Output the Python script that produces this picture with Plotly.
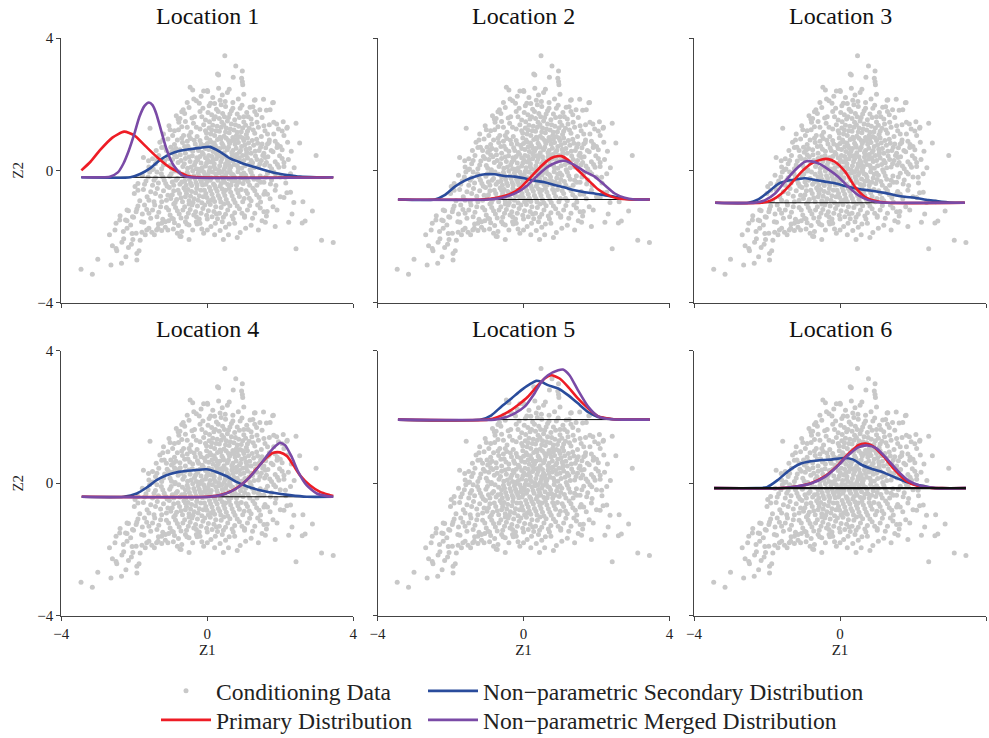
import plotly.graph_objects as go

# ---------------- data ----------------
locations = ["Location 1", "Location 2", "Location 3", "Location 4", "Location 5", "Location 6"]
baselines = [-0.21, -0.88, -0.98, -0.41, 1.92, -0.15]
tick_vals = [-4, 0, 4]
tick_text = ["\u22124", "0", "4"]

# conditioning data (Z1, Z2) (same in every panel)
conditioning = [
    (-3.46,-2.99),(-3.15,-3.14),(-3.00,-2.69),(-2.64,-2.86),(-2.68,-1.95),(-2.53,-1.80),(-2.50,-2.36),(-2.35,-2.81),
    (-2.23,-2.61),(-2.24,-1.50),(-1.93,-2.71),(-1.93,-2.51),(-1.84,-2.11),(-2.04,-2.09),(-1.66,-1.80),(-1.39,-1.80),
    (-0.75,-1.99),(-0.50,-2.09),(0.44,-2.09),(0.58,-1.95),(0.82,-2.03),(1.40,-1.80),(1.86,-1.70),(2.43,-2.37),
    (3.13,-2.11),(3.45,-2.18),(2.60,-1.59),(2.68,-1.53),(2.88,-1.23),(2.62,-0.95),(2.98,0.45),(2.53,0.83),
    (2.43,1.42),(2.08,1.47),(1.79,2.04),(1.54,2.15),(1.29,2.12),(0.96,3.00),(0.78,3.15),(0.48,3.46),
    (0.31,2.88),(0.96,2.68),(0.94,2.78),(-0.47,2.51),(-0.40,2.43),(0.00,2.41),(0.31,2.48),(-0.75,1.57),
    (-0.70,1.77),(0.71,2.81),(0.28,2.91),(0.97,2.59),(0.01,2.38),(-0.17,2.24),(0.41,2.28),(0.49,2.08),
    (0.85,2.16),(1.31,2.13),(1.81,2.05),(-0.37,2.16),(-0.22,2.03),(0.09,2.03),(1.17,1.91),(1.44,1.83),
    (1.72,1.83),(2.18,1.27),(-0.66,1.83),(-1.02,1.23),(-0.79,1.23),(-1.57,1.27),(-1.75,0.39),(-1.61,0.29),
    (-1.98,-0.49),(-1.48,0.04),(-1.25,0.69),(2.19,1.30),(1.82,1.45),(2.05,1.19),(1.91,0.69),(2.10,0.24),
    (1.96,0.09),(1.87,-0.11),(2.14,-0.21),(2.28,-0.66),(2.10,-0.82),(1.69,0.84),(1.59,0.39),(1.73,-0.41),
    (1.46,-0.36),(1.55,-0.72),(-1.87,-2.43),(-2.60,-2.28),(-2.48,-2.43),(-2.29,-2.07),(-2.34,-2.17),(-2.16,-2.33),
    (-2.08,-2.23),(-2.06,-1.91),(-2.39,-1.37),(-2.20,-1.52),(-2.02,-1.42),(-1.74,-1.57),(-1.79,-1.87),(-1.52,-1.87),
    (-1.34,-1.62),(-1.25,-1.82),(-1.15,-1.72),(-1.06,-1.52),(-0.72,-2.00),(-0.79,-1.67),(-0.56,-1.62),(-0.28,-1.62),
    (-0.15,-1.77),(-0.93,-1.77),(-0.93,-1.47),(-2.16,-1.22),(-1.93,-1.17),(0.22,-1.60),(0.41,-1.55),(0.71,-1.47),
    (1.02,-1.37),(1.50,-1.52),(1.59,-1.57),(2.23,-1.57),(2.32,-1.32),(1.91,-1.20),(1.64,-1.24),(2.37,-0.97),
    (0.00,-1.47),(0.25,-1.32),
    # band 2.0 .. 2.5
    (-0.30,2.10),(0.15,2.20),(0.55,2.35),(0.70,2.05),(-0.10,2.40),(0.35,2.12),(1.00,2.30),(0.60,2.45),(-0.55,2.05),(0.20,2.02),
    # band 1.5 .. 2.0
    (-0.80,1.55),(-0.50,1.90),(-0.35,1.62),(-0.20,1.78),(-0.05,1.52),(0.05,1.95),(0.12,1.68),(0.25,1.85),(0.33,1.57),
    (0.42,1.72),(0.50,1.93),(0.58,1.60),(0.66,1.80),(0.75,1.53),(0.82,1.70),(0.90,1.88),(1.00,1.62),(1.08,1.75),
    (1.20,1.55),(1.35,1.68),(1.50,1.60),(1.62,1.82),(-0.62,1.72),(0.38,1.98),(0.95,1.97),(0.18,1.55),(-0.12,1.88),(1.25,1.92),
    (-0.85,1.65),(-0.42,1.58),(-0.15,1.62),(0.02,1.75),(0.22,1.62),(0.30,1.78),(0.47,1.62),(0.62,1.70),(0.70,1.88),
    (0.88,1.60),(1.12,1.62),(1.30,1.78),
    # band 1.0 .. 1.5
    (-1.20,1.10),(-1.05,1.35),(-0.90,1.20),(-0.78,1.45),(-0.65,1.05),(-0.55,1.30),(-0.45,1.15),(-0.38,1.42),(-0.28,1.02),
    (-0.20,1.25),(-0.10,1.38),(-0.02,1.12),(0.06,1.47),(0.12,1.22),(0.20,1.05),(0.27,1.33),(0.33,1.18),(0.40,1.45),
    (0.46,1.03),(0.52,1.28),(0.60,1.14),(0.66,1.40),(0.73,1.22),(0.80,1.05),(0.86,1.33),(0.93,1.17),(1.00,1.46),
    (1.07,1.08),(1.15,1.27),(1.22,1.40),(1.30,1.12),(1.40,1.30),(1.48,1.02),(1.58,1.20),(1.70,1.38),(1.82,1.10),
    (1.95,1.25),(2.10,1.05),(0.15,1.36),(0.55,1.49),(-0.60,1.48),(0.90,1.02),(0.35,1.00),
    (-0.30,1.30),(-0.05,1.20),(0.10,1.10),(0.24,1.20),(0.38,1.30),(0.50,1.16),(0.63,1.25),(0.77,1.38),(0.97,1.28),
    (1.10,1.18),(1.26,1.22),(1.36,1.45),(1.55,1.35),(1.65,1.10),(1.90,1.40),(-0.70,1.32),(-0.95,1.05),(0.05,1.28),
    (0.45,1.38),(0.82,1.15),(-0.50,1.05),(1.05,1.36),
    # band 0.5 .. 1.0
    (-1.40,0.60),(-1.30,0.85),(-1.18,0.70),(-1.08,0.95),(-0.98,0.55),(-0.90,0.78),(-0.82,0.92),(-0.75,0.62),(-0.68,0.84),
    (-0.60,0.52),(-0.53,0.73),(-0.46,0.96),(-0.40,0.58),(-0.33,0.80),(-0.27,0.68),(-0.20,0.90),(-0.14,0.54),(-0.08,0.75),
    (-0.02,0.98),(0.04,0.63),(0.10,0.86),(0.16,0.57),(0.22,0.74),(0.28,0.93),(0.34,0.66),(0.40,0.82),(0.46,0.53),
    (0.52,0.97),(0.58,0.70),(0.64,0.88),(0.70,0.60),(0.76,0.79),(0.82,0.95),(0.88,0.55),(0.94,0.72),(1.00,0.90),
    (1.06,0.64),(1.13,0.83),(1.20,0.52),(1.27,0.76),(1.35,0.94),(1.42,0.60),(1.50,0.80),(1.60,0.68),(1.70,0.92),
    (1.80,0.56),(1.92,0.78),(2.05,0.62),(2.20,0.85),(2.30,0.58),(0.00,0.81),(0.45,0.70),(0.70,0.99),(-0.55,0.88),
    (1.10,0.98),(0.25,0.51),(-1.00,0.70),(1.55,0.52),
    (-1.22,0.92),(-1.12,0.60),(-0.86,0.66),(-0.70,0.97),(-0.62,0.72),(-0.48,0.64),(-0.36,0.91),(-0.24,0.60),(-0.17,0.80),
    (-0.05,0.66),(0.07,0.92),(0.13,0.71),(0.19,0.83),(0.30,0.58),(0.37,0.95),(0.43,0.76),(0.55,0.62),(0.61,0.81),
    (0.67,0.53),(0.73,0.90),(0.79,0.67),(0.85,0.84),(0.91,0.60),(0.97,0.98),(1.03,0.77),(1.16,0.66),(1.23,0.90),
    (1.31,0.58),(1.38,0.82),(1.46,0.70),(1.65,0.80),(1.75,0.60),(1.86,0.88),(2.00,0.72),(-0.92,0.62),(0.26,0.67),
    (0.58,0.90),(1.08,0.55),
    # band 0.0 .. 0.5
    (-1.60,0.10),(-1.50,0.35),(-1.42,0.20),(-1.33,0.45),(-1.25,0.05),(-1.17,0.28),(-1.10,0.42),(-1.02,0.15),(-0.95,0.33),
    (-0.88,0.02),(-0.80,0.24),(-0.74,0.47),(-0.67,0.12),(-0.60,0.36),(-0.54,0.06),(-0.47,0.27),(-0.41,0.44),(-0.35,0.17),
    (-0.29,0.38),(-0.23,0.03),(-0.17,0.22),(-0.11,0.49),(-0.05,0.13),(0.01,0.31),(0.07,0.08),(0.13,0.42),(0.19,0.20),
    (0.25,0.35),(0.31,0.01),(0.37,0.26),(0.43,0.46),(0.49,0.11),(0.55,0.30),(0.61,0.04),(0.67,0.40),(0.73,0.18),
    (0.79,0.34),(0.85,0.07),(0.91,0.27),(0.97,0.45),(1.03,0.14),(1.10,0.37),(1.17,0.02),(1.24,0.23),(1.32,0.43),
    (1.40,0.10),(1.48,0.30),(1.57,0.16),(1.66,0.41),(1.76,0.05),(1.86,0.26),(1.98,0.44),(2.10,0.12),(2.22,0.33),
    (2.38,0.08),(0.10,0.25),(0.50,0.20),(-0.30,0.05),(0.80,0.48),(-0.90,0.47),(0.35,0.44),(1.20,0.30),(-0.05,0.38),(0.60,0.15),
    (-1.38,0.30),(-1.20,0.16),(-1.06,0.36),(-0.98,0.06),(-0.84,0.41),(-0.72,0.30),(-0.63,0.20),(-0.50,0.40),(-0.44,0.10),
    (-0.32,0.25),(-0.20,0.42),(-0.14,0.08),(-0.02,0.22),(0.04,0.45),(0.16,0.31),(0.22,0.05),(0.28,0.44),(0.34,0.14),
    (0.40,0.35),(0.46,0.03),(0.52,0.41),(0.58,0.24),(0.64,0.10),(0.70,0.29),(0.76,0.46),(0.82,0.15),(0.88,0.38),
    (0.94,0.06),(1.00,0.30),(1.07,0.47),(1.14,0.18),(1.28,0.08),(1.36,0.33),(1.52,0.45),(1.62,0.24),(1.71,0.13),
    (1.92,0.18),(2.05,0.36),(-1.52,0.02),(0.18,0.12),(-0.26,0.32),(1.44,0.20),
    # band -0.5 .. 0.0
    (-1.90,-0.40),(-1.78,-0.15),(-1.68,-0.32),(-1.58,-0.05),(-1.50,-0.45),(-1.42,-0.22),(-1.34,-0.38),(-1.26,-0.10),
    (-1.18,-0.30),(-1.10,-0.48),(-1.03,-0.18),(-0.96,-0.35),(-0.89,-0.02),(-0.82,-0.25),(-0.75,-0.42),(-0.68,-0.12),
    (-0.62,-0.33),(-0.55,-0.06),(-0.49,-0.28),(-0.43,-0.46),(-0.37,-0.16),(-0.31,-0.37),(-0.25,-0.08),(-0.19,-0.27),
    (-0.13,-0.44),(-0.07,-0.14),(-0.01,-0.34),(0.05,-0.03),(0.11,-0.22),(0.17,-0.41),(0.23,-0.11),(0.29,-0.30),
    (0.35,-0.48),(0.41,-0.19),(0.47,-0.36),(0.53,-0.07),(0.59,-0.26),(0.65,-0.44),(0.71,-0.13),(0.77,-0.32),
    (0.84,-0.04),(0.91,-0.23),(0.98,-0.40),(1.05,-0.15),(1.12,-0.34),(1.20,-0.06),(1.28,-0.27),(1.36,-0.45),
    (1.45,-0.17),(1.55,-0.36),(1.65,-0.09),(1.76,-0.29),(1.88,-0.46),(2.00,-0.20),(2.15,-0.38),(2.28,-0.10),
    (0.00,-0.20),(0.40,-0.05),(-0.60,-0.20),(0.80,-0.45),(-0.20,-0.01),(1.00,-0.08),
    (-1.72,-0.42),(-1.62,-0.20),(-1.46,-0.30),(-1.38,-0.05),(-1.22,-0.20),(-1.14,-0.40),(-0.99,-0.10),(-0.92,-0.45),
    (-0.86,-0.30),(-0.78,-0.05),(-0.70,-0.35),(-0.58,-0.45),(-0.52,-0.15),(-0.46,-0.38),(-0.40,-0.02),(-0.34,-0.25),
    (-0.28,-0.44),(-0.22,-0.18),(-0.16,-0.35),(-0.10,-0.05),(-0.04,-0.42),(0.02,-0.12),(0.08,-0.30),(0.14,-0.05),
    (0.20,-0.46),(0.26,-0.22),(0.32,-0.08),(0.38,-0.40),(0.44,-0.28),(0.50,-0.15),(0.56,-0.43),(0.62,-0.02),
    (0.68,-0.33),(0.74,-0.20),(0.87,-0.36),(0.94,-0.12),(1.02,-0.28),(1.16,-0.45),(1.24,-0.16),(1.40,-0.30),
    (1.60,-0.20),(1.82,-0.05),(-0.08,-0.25),(0.66,-0.10),
    # band -1.0 .. -0.5
    (-2.00,-0.70),(-1.85,-0.92),(-1.75,-0.58),(-1.65,-0.80),(-1.55,-0.65),(-1.46,-0.95),(-1.37,-0.55),(-1.28,-0.78),
    (-1.20,-0.62),(-1.12,-0.90),(-1.04,-0.52),(-0.96,-0.74),(-0.88,-0.97),(-0.80,-0.60),(-0.72,-0.83),(-0.64,-0.53),
    (-0.57,-0.70),(-0.50,-0.92),(-0.43,-0.64),(-0.36,-0.86),(-0.29,-0.55),(-0.22,-0.77),(-0.15,-0.98),(-0.08,-0.60),
    (-0.01,-0.82),(0.06,-0.52),(0.13,-0.72),(0.20,-0.94),(0.27,-0.63),(0.34,-0.85),(0.41,-0.56),(0.48,-0.76),
    (0.56,-0.99),(0.64,-0.66),(0.72,-0.88),(0.80,-0.58),(0.88,-0.79),(0.97,-0.95),(1.06,-0.62),(1.15,-0.84),
    (1.25,-0.54),(1.35,-0.74),(1.46,-0.96),(1.58,-0.64),(1.72,-0.86),(1.86,-0.60),(2.00,-0.80),(2.18,-0.68),
    (0.10,-0.90),(-0.60,-0.80),(0.50,-0.60),
    (-1.90,-0.60),(-1.60,-0.90),(-1.42,-0.70),(-1.25,-0.95),(-1.08,-0.75),(-0.92,-0.62),(-0.84,-0.88),(-0.76,-0.70),
    (-0.68,-0.95),(-0.53,-0.58),(-0.46,-0.78),(-0.39,-0.97),(-0.32,-0.68),(-0.25,-0.90),(-0.18,-0.60),(-0.11,-0.80),
    (-0.04,-0.70),(0.03,-0.95),(0.09,-0.62),(0.16,-0.84),(0.23,-0.55),(0.30,-0.76),(0.37,-0.96),(0.45,-0.67),
    (0.52,-0.88),(0.60,-0.55),(0.68,-0.77),(0.76,-0.97),(0.84,-0.68),(0.93,-0.58),(1.01,-0.85),(1.10,-0.70),
    (1.20,-0.92),(1.30,-0.62),(1.42,-0.82),(1.65,-0.72),(-1.00,-0.85),(-0.60,-0.60),
    # band -1.5 .. -1.0
    (-2.20,-1.20),(-2.05,-1.40),(-1.90,-1.08),(-1.78,-1.32),(-1.66,-1.18),(-1.55,-1.45),(-1.44,-1.05),(-1.33,-1.27),
    (-1.22,-1.48),(-1.12,-1.12),(-1.02,-1.35),(-0.92,-1.02),(-0.82,-1.22),(-0.72,-1.44),(-0.62,-1.10),(-0.52,-1.30),
    (-0.42,-1.05),(-0.32,-1.25),(-0.22,-1.47),(-0.12,-1.15),(-0.02,-1.36),(0.08,-1.03),(0.18,-1.24),(0.28,-1.46),
    (0.38,-1.12),(0.50,-1.33),(0.62,-1.07),(0.75,-1.28),(0.88,-1.16),(1.02,-1.42),(1.16,-1.06),(1.30,-1.30),
    (1.45,-1.14),(1.62,-1.38),(1.80,-1.10),(-1.50,-1.20),(-0.30,-1.40),
    (-1.95,-1.25),(-1.72,-1.05),(-1.60,-1.30),(-1.38,-1.40),(-1.28,-1.10),(-1.06,-1.20),(-0.97,-1.45),(-0.87,-1.12),
    (-0.77,-1.32),(-0.67,-1.20),(-0.57,-1.42),(-0.47,-1.18),(-0.37,-1.35),(-0.27,-1.08),(-0.17,-1.30),(-0.07,-1.05),
    (0.03,-1.22),(0.13,-1.40),(0.23,-1.10),(0.33,-1.30),(0.44,-1.42),(0.56,-1.20),(0.68,-1.38),(0.82,-1.08),
    (0.95,-1.30),(1.10,-1.20),(1.24,-1.45),(1.38,-1.05),(1.55,-1.25),(-0.50,-1.02),(0.45,-1.02),
    # band -2.0 .. -1.5
    (-2.50,-1.60),(-2.30,-1.85),(-2.10,-1.65),(-1.95,-1.90),(-1.80,-1.55),(-1.60,-1.75),(-1.45,-1.95),(-1.25,-1.60),
    (-1.08,-1.80),(-0.90,-1.58),(-0.70,-1.85),(-0.50,-1.65),(-0.30,-1.55),(-0.10,-1.90),(0.10,-1.70),(0.35,-1.82),
    (0.60,-1.62),(0.90,-1.88),(1.20,-1.66),
    (-2.20,-1.75),(-1.70,-1.95),(-1.35,-1.75),(-1.15,-1.55),(-0.82,-1.90),(-0.60,-1.55),(-0.40,-1.80),(-0.20,-1.60),
    (0.00,-1.80),(0.20,-1.95),(0.50,-1.72),(0.75,-1.60),(1.05,-1.75),(-2.40,-1.50),
]
cond_z1 = [p[0] for p in conditioning]
cond_z2 = [p[1] for p in conditioning]

# density curves (Z1, Z2) drawn on top of each location's baseline
loc1_primary = [(-3.45,0.00),(-3.20,0.26),(-2.94,0.61),(-2.60,0.99),(-2.28,1.17),(-2.00,1.06),(-1.70,0.74),(-1.39,0.41),
                (-1.02,0.08),(-0.56,-0.16),(-0.20,-0.21),(3.45,-0.21)]
loc1_secondary = [(-3.45,-0.21),(-2.11,-0.21),(-1.84,-0.11),(-1.57,0.06),(-1.30,0.31),(-1.02,0.49),(-0.75,0.59),(-0.47,0.64),
                  (-0.20,0.68),(0.07,0.71),(0.35,0.56),(0.62,0.36),(0.90,0.24),(1.26,0.11),(1.63,-0.01),(1.90,-0.09),
                  (2.18,-0.14),(2.54,-0.19),(2.99,-0.21),(3.45,-0.21)]
loc1_merged = [(-3.45,-0.21),(-2.90,-0.21),(-2.67,-0.19),(-2.45,-0.06),(-2.30,0.20),(-2.15,0.60),(-2.00,1.10),(-1.86,1.62),
               (-1.72,1.95),(-1.60,2.05),(-1.50,1.97),(-1.40,1.72),(-1.28,1.26),(-1.11,0.61),(-0.93,0.16),(-0.70,-0.14),
               (-0.47,-0.21),(3.45,-0.21)]

loc2_primary = [(-3.44,-0.88),(-1.16,-0.88),(-0.70,-0.82),(-0.33,-0.70),(-0.06,-0.50),(0.21,-0.19),(0.49,0.13),(0.67,0.31),
                (0.85,0.41),(1.04,0.43),(1.22,0.31),(1.49,0.01),(1.77,-0.29),(2.04,-0.57),(2.31,-0.75),(2.59,-0.85),
                (2.96,-0.88),(3.46,-0.88)]
loc2_secondary = [(-3.44,-0.88),(-2.43,-0.88),(-2.16,-0.75),(-1.89,-0.50),(-1.61,-0.31),(-1.34,-0.19),(-1.06,-0.12),(-0.79,-0.12),
                  (-0.52,-0.17),(-0.24,-0.19),(0.03,-0.24),(0.30,-0.31),(0.58,-0.36),(0.85,-0.44),(1.13,-0.52),(1.40,-0.60),
                  (1.68,-0.66),(1.95,-0.70),(2.22,-0.75),(2.50,-0.80),(2.77,-0.86),(3.04,-0.88),(3.46,-0.88)]
loc2_merged = [(-3.44,-0.88),(-0.97,-0.88),(-0.52,-0.81),(-0.15,-0.65),(0.12,-0.44),(0.40,-0.14),(0.67,0.11),(0.95,0.26),
               (1.13,0.29),(1.40,0.16),(1.68,-0.04),(1.95,-0.19),(2.22,-0.44),(2.50,-0.70),(2.77,-0.83),(3.04,-0.88),(3.46,-0.88)]

loc3_primary = [(-3.42,-0.98),(-2.15,-0.98),(-1.87,-0.90),(-1.60,-0.70),(-1.33,-0.39),(-1.05,-0.04),(-0.78,0.21),(-0.50,0.33),
                (-0.32,0.34),(-0.14,0.26),(0.14,-0.04),(0.41,-0.50),(0.68,-0.80),(0.96,-0.92),(1.32,-0.98),(3.42,-0.98)]
loc3_secondary = [(-3.42,-0.98),(-2.51,-0.98),(-2.24,-0.88),(-1.96,-0.65),(-1.69,-0.41),(-1.42,-0.31),(-1.14,-0.26),(-0.96,-0.24),
                  (-0.68,-0.29),(-0.41,-0.34),(-0.14,-0.39),(0.14,-0.47),(0.41,-0.54),(0.68,-0.59),(0.96,-0.63),(1.23,-0.68),
                  (1.51,-0.75),(1.78,-0.80),(2.05,-0.83),(2.42,-0.90),(2.79,-0.95),(3.15,-0.98),(3.42,-0.98)]
loc3_merged = [(-3.42,-0.98),(-2.33,-0.98),(-2.05,-0.90),(-1.78,-0.70),(-1.51,-0.34),(-1.23,0.01),(-0.96,0.26),(-0.82,0.28),
               (-0.59,0.21),(-0.32,0.03),(-0.05,-0.19),(0.23,-0.50),(0.50,-0.75),(0.78,-0.90),(1.05,-0.96),(1.32,-0.98),(3.42,-0.98)]

loc4_primary = [(-3.44,-0.41),(-0.02,-0.41),(0.35,-0.36),(0.71,-0.21),(1.08,0.09),(1.35,0.44),(1.63,0.78),(1.81,0.92),
                (1.99,0.93),(2.18,0.82),(2.36,0.54),(2.54,0.24),(2.81,-0.06),(3.09,-0.26),(3.36,-0.36),(3.45,-0.39)]
loc4_secondary = [(-3.44,-0.41),(-2.30,-0.41),(-1.93,-0.31),(-1.66,-0.13),(-1.39,0.09),(-1.12,0.24),(-0.75,0.35),(-0.38,0.39),
                  (-0.02,0.42),(0.25,0.34),(0.53,0.21),(0.80,0.04),(1.08,-0.09),(1.44,-0.21),(1.81,-0.29),(2.26,-0.36),
                  (2.72,-0.41),(3.45,-0.41)]
loc4_merged = [(-3.44,-0.41),(0.07,-0.41),(0.44,-0.34),(0.80,-0.16),(1.17,0.19),(1.44,0.54),(1.72,0.95),(1.90,1.15),
               (1.99,1.22),(2.13,1.15),(2.31,0.80),(2.49,0.34),(2.72,-0.06),(3.00,-0.31),(3.27,-0.39),(3.45,-0.41)]

loc5_primary = [(-3.44,1.92),(-0.97,1.92),(-0.70,2.00),(-0.42,2.15),(-0.15,2.36),(0.12,2.61),(0.40,2.96),(0.58,3.16),
                (0.76,3.26),(0.99,3.16),(1.22,2.91),(1.49,2.56),(1.77,2.26),(2.04,2.02),(2.41,1.94),(2.77,1.92),(3.46,1.92)]
loc5_secondary = [(-3.44,1.92),(-1.16,1.92),(-0.88,2.05),(-0.61,2.31),(-0.33,2.56),(-0.06,2.81),(0.21,3.01),(0.35,3.09),
                  (0.49,3.06),(0.67,2.96),(0.95,2.86),(1.22,2.66),(1.49,2.41),(1.77,2.15),(2.04,2.00),(2.41,1.94),
                  (2.77,1.92),(3.46,1.92)]
loc5_merged = [(-3.44,1.92),(-0.79,1.92),(-0.52,1.98),(-0.24,2.11),(0.03,2.31),(0.30,2.71),(0.49,3.06),(0.67,3.26),
               (0.95,3.41),(1.08,3.43),(1.26,3.26),(1.49,2.81),(1.77,2.31),(2.04,2.02),(2.41,1.93),(2.77,1.92),(3.46,1.92)]

loc6_primary = [(-3.45,-0.15),(-1.60,-0.15),(-1.20,-0.10),(-0.80,0.00),(-0.40,0.22),(-0.10,0.50),(0.20,0.85),(0.50,1.15),
                (0.70,1.20),(0.90,1.12),(1.20,0.80),(1.50,0.40),(1.80,0.08),(2.10,-0.07),(2.50,-0.14),(2.80,-0.15),(3.45,-0.15)]
loc6_secondary = [(-3.45,-0.15),(-2.30,-0.15),(-2.00,-0.12),(-1.70,0.10),(-1.40,0.38),(-1.10,0.58),(-0.80,0.66),(-0.50,0.70),
                  (-0.20,0.72),(0.10,0.76),(0.35,0.72),(0.60,0.55),(0.90,0.42),(1.20,0.32),(1.50,0.18),(1.80,0.04),
                  (2.10,-0.05),(2.50,-0.13),(2.80,-0.15),(3.45,-0.15)]
loc6_merged = [(-3.45,-0.15),(-1.60,-0.15),(-1.20,-0.10),(-0.80,-0.01),(-0.40,0.20),(-0.10,0.48),(0.20,0.82),(0.50,1.08),
               (0.75,1.14),(1.00,1.05),(1.30,0.72),(1.60,0.35),(1.90,0.06),(2.20,-0.08),(2.60,-0.15),(3.45,-0.15)]

primary = [loc1_primary, loc2_primary, loc3_primary, loc4_primary, loc5_primary, loc6_primary]
secondary = [loc1_secondary, loc2_secondary, loc3_secondary, loc4_secondary, loc5_secondary, loc6_secondary]
merged = [loc1_merged, loc2_merged, loc3_merged, loc4_merged, loc5_merged, loc6_merged]

# ---------------- styling / layout ----------------
W, H = 989, 738
ML, MR, MT, MB = 61, 3, 38, 122
PW, PH = W - ML - MR, H - MT - MB
FONT = "Liberation Serif, Times New Roman, serif"
C_DATA = "#c8c8c8"
C_RED = "#ee1c25"
C_BLUE = "#2a4c9c"
C_PURPLE = "#7a4aa6"
AX = "#444444"

col_px = [(61.3, 353.3), (377.5, 669.5), (694.0, 986.0)]
row_px = [(37.7, 302.7), (350.7, 615.7)]


def xdom(c):
    a, b = col_px[c]
    return [max(0, (a - ML) / PW), min(1, (b - ML) / PW)]


def ydom(r):
    a, b = row_px[r]
    return [max(0, (MT + PH - b) / PH), min(1, (MT + PH - a) / PH)]


fig = go.Figure()
layout = dict(
    width=W, height=H, template="none",
    margin=dict(l=ML, r=MR, t=MT, b=MB, pad=0, autoexpand=False),
    paper_bgcolor="white", plot_bgcolor="white",
    font=dict(family=FONT, size=15, color="#222"),
    showlegend=True,
)


def curve_trace(pts, color, name, ax, ay, show, legend):
    return go.Scatter(
        x=[p[0] for p in pts], y=[p[1] for p in pts], mode="lines",
        line=dict(color=color, width=2.6, shape="spline", smoothing=0.6),
        name=name, showlegend=show, legend=legend, xaxis=ax, yaxis=ay,
        hoverinfo="skip",
    )


def baseline_trace(i, ax, ay, on_top):
    xs = [p[0] for p in primary[i]]
    return go.Scatter(
        x=[min(xs), max(xs)], y=[baselines[i], baselines[i]], mode="lines",
        line=dict(color="#111" if on_top else "black", width=2.2 if on_top else 1),
        showlegend=False, xaxis=ax, yaxis=ay, hoverinfo="skip")


annotations = []
for i in range(6):
    r, c = divmod(i, 3)
    sfx = "" if i == 0 else str(i + 1)
    ax, ay = "x" + sfx, "y" + sfx
    first = i == 0
    fig.add_trace(go.Scatter(
        x=cond_z1, y=cond_z2, mode="markers",
        marker=dict(color=C_DATA, size=5, line=dict(width=0)),
        name="Conditioning Data", showlegend=first, legend="legend",
        xaxis=ax, yaxis=ay, hoverinfo="skip"))
    top_baseline = (i == 5)
    if not top_baseline:
        fig.add_trace(baseline_trace(i, ax, ay, False))
    fig.add_trace(curve_trace(secondary[i], C_BLUE, "Non\u2212parametric Secondary Distribution", ax, ay, first, "legend2"))
    fig.add_trace(curve_trace(primary[i], C_RED, "Primary Distribution", ax, ay, first, "legend3"))
    fig.add_trace(curve_trace(merged[i], C_PURPLE, "Non\u2212parametric Merged Distribution", ax, ay, first, "legend4"))
    if top_baseline:
        fig.add_trace(baseline_trace(i, ax, ay, True))

    layout["xaxis" + sfx] = dict(
        domain=xdom(c), range=[-4, 4], anchor=ay, tickmode="array",
        tickvals=tick_vals, ticktext=tick_text, showticklabels=(r == 1),
        ticks="outside", ticklen=4, tickwidth=1, tickcolor=AX,
        showline=True, linecolor=AX, linewidth=1, showgrid=False, zeroline=False,
        tickfont=dict(family=FONT, size=15, color="#222"), automargin=False,
        title=dict(text="Z1" if r == 1 else "", font=dict(family=FONT, size=15, color="#222"), standoff=0),
    )
    layout["yaxis" + sfx] = dict(
        domain=ydom(r), range=[-4, 4], anchor=ax, tickmode="array",
        tickvals=tick_vals, ticktext=tick_text, showticklabels=(c == 0),
        ticks="outside", ticklen=4, tickwidth=1, tickcolor=AX,
        showline=True, linecolor=AX, linewidth=1, showgrid=False, zeroline=False,
        tickfont=dict(family=FONT, size=15, color="#222"), automargin=False,
        title=dict(text="Z2" if c == 0 else "", font=dict(family=FONT, size=15, color="#222"), standoff=10),
    )
    d = xdom(c)
    top = ydom(r)[1]
    annotations.append(dict(
        text=locations[i], xref="paper", yref="paper",
        x=(d[0] + d[1]) / 2, y=top + 22 / PH, xanchor="center", yanchor="middle",
        showarrow=False, font=dict(family=FONT, size=24, color="#111")))

layout["annotations"] = annotations
legend_common = dict(
    orientation="v", xanchor="left", yanchor="top", bgcolor="rgba(0,0,0,0)",
    font=dict(family=FONT, size=23.6, color="#222"), itemwidth=50,
    tracegroupgap=0, borderwidth=0,
)
row1_top, row2_top = 669, 698
layout["legend"] = dict(legend_common, x=(156 - ML) / PW, y=(MT + PH - row1_top) / PH)
layout["legend2"] = dict(legend_common, x=(423 - ML) / PW, y=(MT + PH - row1_top) / PH)
layout["legend3"] = dict(legend_common, x=(156 - ML) / PW, y=(MT + PH - row2_top) / PH)
layout["legend4"] = dict(legend_common, x=(423 - ML) / PW, y=(MT + PH - row2_top) / PH)

fig.update_layout(**layout)
fig.write_html("out.html", config={"displayModeBar": False},
               post_script="document.body.style.margin='0px';")
